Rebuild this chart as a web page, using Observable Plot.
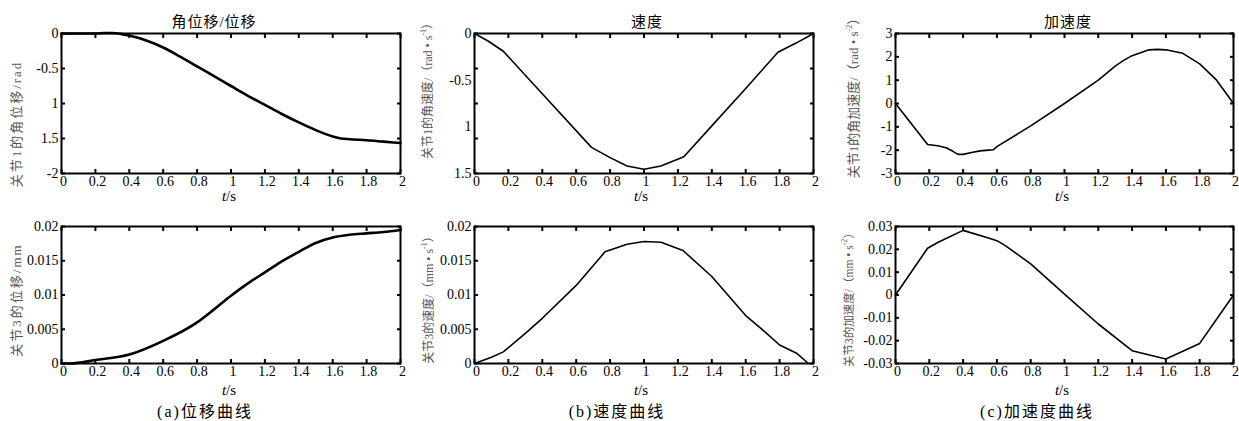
<!DOCTYPE html>
<html><head><meta charset="utf-8">
<script src="https://cdn.jsdelivr.net/npm/d3@7"></script>
<script src="https://cdn.jsdelivr.net/npm/@observablehq/plot@0.6"></script>
<style>
body{margin:0;background:#fff;}
#root{position:relative;width:1239px;height:421px;overflow:hidden;font-family:"Liberation Serif","Times New Roman","Noto Sans CJK SC",serif;color:#000;}
.abs{position:absolute;white-space:nowrap;line-height:1;}
.title{font-size:15px;letter-spacing:1px;transform:translate(-50%,-50%);}
.ylab{font-size:13px;color:#555;transform:translate(-50%,-50%) rotate(-90deg);}
.ylab sup{font-size:8px;vertical-align:6px;}
.tlab{font-size:15px;transform:translate(-50%,-50%);}
.cap{font-size:16px;letter-spacing:2px;transform:translate(-50%,-50%);}
#root svg{position:absolute;}
#root svg text{font-family:"Liberation Serif","Times New Roman",serif !important;font-size:14px;}
</style></head><body><div id="root"></div>
<script>
// ---- shared x axis ----
const tTicks = [0, 0.2, 0.4, 0.6, 0.8, 1, 1.2, 1.4, 1.6, 1.8, 2];
const tTickLabels = ["0", "0.2", "0.4", "0.6", "0.8", "1", "1.2", "1.4", "1.6", "1.8", "2"];

// ---- titles / captions ----
const columnTitles = ["角位移/位移", "速度", "加速度"];
const captions = ["(a)位移曲线", "(b)速度曲线", "(c)加速度曲线"];
const yTitles = [
  "关节1的角位移/rad",
  "关节1的角速度/（rad • s<sup>-1</sup>）",
  "关节1的角加速度/（rad • s<sup>-2</sup>）",
  "关节3的位移/mm",
  "关节3的速度/（mm • s<sup>-1</sup>）",
  "关节3的加速度/（mm • s<sup>-2</sup>）"
];

// ---- panel (a) top: joint 1 angular displacement ----
const dispT1 = [0, 0.2, 0.25, 0.3, 0.35, 0.4, 0.5, 0.6, 0.7, 0.8, 0.9, 1.0, 1.1, 1.2, 1.3, 1.4, 1.5, 1.6, 1.65, 1.7, 1.8, 1.9, 2.0];
const dispV1 = [0, 0, 0.008, 0.008, -0.005, -0.03, -0.1, -0.2, -0.33, -0.47, -0.61, -0.75, -0.89, -1.02, -1.15, -1.27, -1.38, -1.47, -1.5, -1.51, -1.525, -1.545, -1.565];
const dispTicks1 = [0, -0.5, -1, -1.5, -2];
const dispLabels1 = ["0", "-0.5", "1", "1.5", "-2"];

// ---- panel (b) top: joint 1 angular velocity ----
const velT1 = [0, 0.08, 0.17, 0.4, 0.69, 0.8, 0.9, 1.0, 1.1, 1.235, 1.4, 1.6, 1.79, 1.9, 2.0];
const velV1 = [0, -0.08, -0.19, -0.645, -1.22, -1.33, -1.42, -1.455, -1.42, -1.32, -0.99, -0.59, -0.2, -0.1, 0];
const velTickMarks1 = [0, -0.375, -0.75, -1.125, -1.5];
const velTicks1 = [0, -0.5, -1, -1.5];
const velLabels1 = ["0", "-0.5", "1", "1.5"];

// ---- panel (c) top: joint 1 angular acceleration ----
const accT1 = [0, 0.19, 0.25, 0.3, 0.34, 0.37, 0.4, 0.45, 0.5, 0.55, 0.58, 0.6, 0.8, 1.0, 1.2, 1.3, 1.35, 1.4, 1.5, 1.55, 1.6, 1.7, 1.8, 1.9, 2.0];
const accV1 = [0, -1.76, -1.81, -1.9, -2.05, -2.18, -2.18, -2.1, -2.03, -2.0, -1.98, -1.85, -0.96, 0, 1.0, 1.6, 1.85, 2.05, 2.3, 2.32, 2.3, 2.15, 1.7, 1.0, 0];
const accTicks1 = [-3, -2, -1, 0, 1, 2, 3];
const accLabels1 = ["-3", "-2", "-1", "0", "1", "2", "3"];

// ---- panel (a) bottom: joint 3 displacement ----
const dispT3 = [0, 0.05, 0.2, 0.4, 0.6, 0.8, 0.9, 1.0, 1.1, 1.2, 1.3, 1.4, 1.5, 1.6, 1.7, 1.8, 1.9, 2.0];
const dispV3 = [0, 0, 0.0005, 0.0013, 0.0033, 0.006, 0.0079, 0.0099, 0.0117, 0.0133, 0.0149, 0.0163, 0.0176, 0.0184, 0.0188, 0.019, 0.0192, 0.0195];
const dispTicks3 = [0, 0.005, 0.01, 0.015, 0.02];
const dispLabels3 = ["0", "0.005", "0.01", "0.015", "0.02"];

// ---- panel (b) bottom: joint 3 velocity ----
const velT3 = [0, 0.1, 0.17, 0.3, 0.4, 0.6, 0.77, 0.9, 1.0, 1.1, 1.23, 1.4, 1.6, 1.7, 1.8, 1.9, 1.97];
const velV3 = [0, 0.0009, 0.0017, 0.0044, 0.0066, 0.0114, 0.0163, 0.0174, 0.0178, 0.0177, 0.0165, 0.0127, 0.007, 0.0049, 0.0027, 0.0015, 0];
const velTicks3 = [0, 0.005, 0.01, 0.015, 0.02];
const velLabels3 = ["0", "0.005", "0.01", "0.015", "0.02"];

// ---- panel (c) bottom: joint 3 acceleration ----
const accT3 = [0, 0.19, 0.25, 0.4, 0.55, 0.6, 0.65, 0.8, 1.0, 1.2, 1.4, 1.6, 1.8, 2.0];
const accV3 = [0, 0.0205, 0.023, 0.0283, 0.025, 0.0238, 0.0216, 0.0136, 0.0004, -0.0127, -0.0244, -0.028, -0.0212, 0];
const accTicks3 = [-0.03, -0.02, -0.01, 0, 0.01, 0.02, 0.03];
const accLabels3 = ["-0.03", "-0.02", "-0.01", "0", "0.01", "0.02", "0.03"];

const root = document.getElementById("root");
const xLabelMap = new Map(tTicks.map((d, i) => [d, tTickLabels[i]]));

function panel(o) {
  const rows = o.t.map((t, i) => ({t, v: o.v[i]}));
  const yMap = new Map(o.yLabelValues.map((d, i) => [d, o.yLabelTexts[i]]));
  const marks = o.yTickMarks || o.yLabelValues;
  const svg = Plot.plot({
    width: o.width, height: o.height,
    marginTop: o.mt, marginBottom: o.mb, marginLeft: o.ml, marginRight: o.mr,
    x: {domain: [0, 2], label: null},
    y: {domain: o.yDomain, label: null},
    style: {fontFamily: "'Liberation Serif', 'Times New Roman', serif", fontSize: "14px", color: "#000", background: "transparent", overflow: "visible"},
    marks: [
      Plot.axisX({ticks: tTicks, anchor: "bottom", tickSize: 0, tickPadding: 3, dx: 2, tickFormat: d => xLabelMap.get(d), label: null, fontSize: 14}),
      Plot.axisX({ticks: tTicks, anchor: "top", tickSize: 4, dy: 4, tickFormat: () => "", label: null, strokeWidth: 2}),
      Plot.axisX({ticks: tTicks, anchor: "bottom", tickSize: 4, dy: -4, tickFormat: () => "", label: null, strokeWidth: 2}),
      Plot.axisY({ticks: o.yLabelValues, anchor: "left", tickSize: 0, tickPadding: 3, tickFormat: d => yMap.get(d), label: null, fontSize: 14}),
      Plot.axisY({ticks: marks, anchor: "left", tickSize: 4, dx: 4, tickFormat: () => "", label: null, strokeWidth: 2}),
      Plot.axisY({ticks: marks, anchor: "right", tickSize: 4, dx: -4, tickFormat: () => "", label: null, strokeWidth: 2}),
      Plot.frame({strokeWidth: 2}),
      Plot.line(rows, {x: "t", y: "v", strokeWidth: o.lw, curve: o.curve || "linear"})
    ]
  });
  svg.style.left = o.left + "px";
  svg.style.top = o.top + "px";
  root.appendChild(svg);
}

const cols = [
  {left: 0, width: 410, ml: 61, mr: 10},
  {left: 410, width: 410, ml: 64, mr: 7},
  {left: 820, width: 419, ml: 75, mr: 6}
];
const topRow = {top: 0, height: 200, mt: 33, mb: 27};
const botRow = {top: 200, height: 200, mt: 26, mb: 37};

panel({...cols[0], ...topRow, t: dispT1, v: dispV1, yDomain: [-2, 0], yLabelValues: dispTicks1, yLabelTexts: dispLabels1, lw: 2.6, curve: "monotone-x"});
panel({...cols[1], ...topRow, t: velT1, v: velV1, yDomain: [-1.5, 0], yLabelValues: velTicks1, yLabelTexts: velLabels1, yTickMarks: velTickMarks1, lw: 1.6});
panel({...cols[2], ...topRow, t: accT1, v: accV1, yDomain: [-3, 3], yLabelValues: accTicks1, yLabelTexts: accLabels1, lw: 1.6});
panel({...cols[0], ...botRow, t: dispT3, v: dispV3, yDomain: [0, 0.02], yLabelValues: dispTicks3, yLabelTexts: dispLabels3, lw: 2.6, curve: "monotone-x"});
panel({...cols[1], ...botRow, t: velT3, v: velV3, yDomain: [0, 0.02], yLabelValues: velTicks3, yLabelTexts: velLabels3, lw: 1.6});
panel({...cols[2], ...botRow, t: accT3, v: accV3, yDomain: [-0.03, 0.03], yLabelValues: accTicks3, yLabelTexts: accLabels3, lw: 1.6});

function addText(cls, html, x, y, extra) {
  const d = document.createElement("div");
  d.className = "abs " + cls;
  d.innerHTML = html;
  d.style.left = x + "px";
  d.style.top = y + "px";
  if (extra) Object.assign(d.style, extra);
  root.appendChild(d);
}

const titleX = [214, 647, 1068];
columnTitles.forEach((s, i) => addText("title", s, titleX[i], 22));
const tX = [229, 641, 1062];
tX.forEach(x => { addText("tlab", "<i>t</i>/s", x, 196); addText("tlab", "<i>t</i>/s", x, 390); });
const capX = [205, 617, 1037];
captions.forEach((s, i) => addText("cap", s, capX[i], 412));
const yTitlePos = [[16, 124, {letterSpacing: "2px"}], [427, 88, {fontSize: "12px"}], [853, 95, {}], [16, 300, {letterSpacing: "2px"}], [428, 297, {fontSize: "12px"}], [848, 297, {fontSize: "11.5px"}]];
yTitles.forEach((s, i) => addText("ylab", s, yTitlePos[i][0], yTitlePos[i][1], yTitlePos[i][2]));
</script>
</body></html>
